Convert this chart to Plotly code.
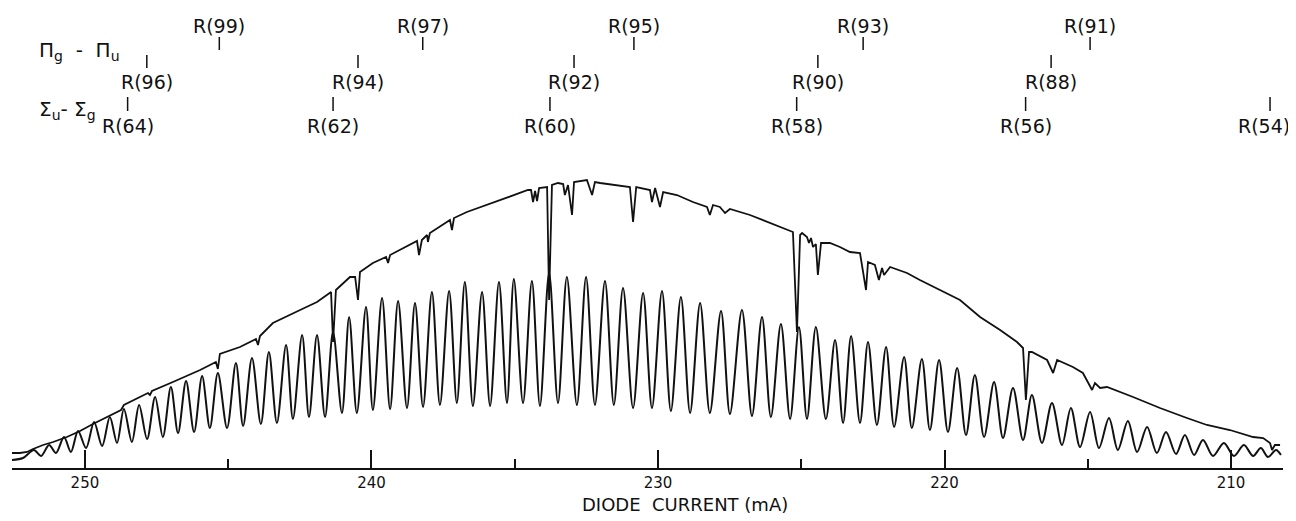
import plotly.graph_objects as go

# ---------------- data (diode current in mA, signal in arbitrary units) ----------------
# Upper trace: transmitted laser power through the absorption cell
abs_mA = [252.55, 252.27, 252.02, 251.81, 251.46, 251.11, 250.63, 250.17, 249.72, 249.12,
          248.74, 248.64, 247.80, 247.73, 247.66, 246.93, 245.98, 245.43, 245.36, 245.29,
          244.59, 244.03, 243.96, 243.89, 243.44, 242.49, 241.90, 241.41, 241.34, 241.24,
          240.75, 240.57, 240.47, 240.40, 239.95, 239.49, 239.42, 239.35, 239.00, 238.41,
          238.34, 238.24, 238.06, 238.03, 237.96, 237.26, 237.19, 237.12, 236.67, 235.51,
          234.54, 234.43, 234.36, 234.29, 234.22, 234.15, 233.87, 233.80, 233.70, 233.49,
          233.31, 233.25, 233.14, 233.00, 232.93, 232.48, 232.30, 232.20, 232.02, 230.98,
          230.87, 230.76, 230.28, 230.21, 230.10, 229.93, 229.82, 229.34, 228.78, 228.29,
          228.19, 228.08, 227.84, 227.66, 227.49, 226.79, 226.20, 225.63, 225.29, 225.15,
          225.04, 224.97, 224.80, 224.73, 224.66, 224.59, 224.49, 224.42, 224.31, 224.00,
          223.65, 223.30, 222.95, 222.74, 222.67, 222.43, 222.29, 222.18, 222.11, 221.90,
          221.31, 220.86, 220.16, 219.46, 218.76, 218.06, 217.47, 217.26, 217.16, 217.05,
          216.95, 216.42, 216.21, 216.07, 215.52, 215.17, 214.85, 214.75, 214.57, 214.33,
          213.42, 212.48, 211.54, 210.84, 210.04, 209.23, 208.88, 208.64, 208.57, 208.47,
          208.29]
abs_I = [0.15, 0.15, 0.16, 0.19, 0.23, 0.26, 0.31, 0.37, 0.44, 0.53,
         0.58, 0.63, 0.75, 0.73, 0.77, 0.86, 0.98, 1.06, 0.99, 1.14,
         1.21, 1.29, 1.23, 1.32, 1.45, 1.58, 1.66, 1.76, 1.26, 1.78,
         1.91, 1.91, 1.68, 1.96, 2.05, 2.11, 2.05, 2.13, 2.18, 2.27,
         2.13, 2.28, 2.33, 2.26, 2.35, 2.48, 2.38, 2.50, 2.56, 2.68,
         2.78, 2.78, 2.66, 2.77, 2.67, 2.80, 2.81, 1.68, 2.83, 2.85,
         2.84, 2.73, 2.83, 2.53, 2.86, 2.88, 2.73, 2.86, 2.85, 2.81,
         2.46, 2.81, 2.78, 2.66, 2.80, 2.61, 2.76, 2.73, 2.66, 2.61,
         2.53, 2.63, 2.61, 2.55, 2.59, 2.53, 2.46, 2.40, 2.36, 1.36,
         2.33, 2.35, 2.31, 2.25, 2.30, 2.21, 2.24, 1.93, 2.25, 2.25,
         2.21, 2.16, 2.15, 1.78, 2.06, 2.03, 1.88, 2.00, 1.93, 2.01,
         1.95, 1.88, 1.78, 1.68, 1.51, 1.38, 1.26, 1.20, 0.68, 1.16,
         1.16, 1.08, 0.95, 1.08, 1.01, 0.95, 0.78, 0.85, 0.80, 0.81,
         0.71, 0.60, 0.50, 0.43, 0.38, 0.31, 0.30, 0.25, 0.18, 0.23,
         0.23]

# Lower trace: etalon fringes (maxima, minima and the two ends)
fringe_peak_mA = [251.78, 251.25, 250.73, 250.24, 249.68, 249.13, 248.64, 248.11, 247.55, 247.00,
                  246.47, 245.91, 245.36, 244.73, 244.17, 243.58, 242.98, 242.42, 241.90, 241.34,
                  240.78, 240.19, 239.63, 239.07, 238.48, 237.89, 237.29, 236.74, 236.14, 235.55,
                  235.03, 234.40, 233.80, 233.18, 232.51, 231.85, 231.22, 230.52, 229.86, 229.20,
                  228.53, 227.80, 227.07, 226.37, 225.71, 225.08, 224.49, 223.82, 223.26, 222.67,
                  222.04, 221.41, 220.79, 220.19, 219.56, 218.94, 218.27, 217.61, 216.95, 216.25,
                  215.59, 214.92, 214.26, 213.60, 212.93, 212.27, 211.61, 210.98, 210.25, 209.55,
                  208.96, 208.43]
fringe_peak_I = [0.18, 0.23, 0.31, 0.37, 0.46, 0.51, 0.59, 0.63, 0.71, 0.81,
                 0.87, 0.92, 0.95, 1.05, 1.10, 1.16, 1.23, 1.33, 1.33, 1.36,
                 1.51, 1.61, 1.70, 1.67, 1.65, 1.76, 1.77, 1.86, 1.76, 1.86,
                 1.89, 1.87, 1.95, 1.91, 1.91, 1.87, 1.80, 1.75, 1.77, 1.71,
                 1.65, 1.57, 1.58, 1.51, 1.44, 1.41, 1.41, 1.28, 1.32, 1.26,
                 1.21, 1.11, 1.09, 1.08, 1.00, 0.93, 0.86, 0.80, 0.73, 0.65,
                 0.60, 0.56, 0.50, 0.47, 0.41, 0.36, 0.33, 0.28, 0.25, 0.23,
                 0.20, 0.18]
fringe_trough_mA = [251.53, 251.01, 250.49, 249.96, 249.40, 248.88, 248.36, 247.83, 247.28, 246.75,
                    246.19, 245.64, 245.04, 244.48, 243.86, 243.30, 242.74, 242.18, 241.62, 241.03,
                    240.51, 239.95, 239.35, 238.76, 238.20, 237.61, 237.02, 236.46, 235.86, 235.27,
                    234.71, 234.12, 233.49, 232.83, 232.20, 231.54, 230.87, 230.21, 229.55, 228.88,
                    228.19, 227.49, 226.72, 226.06, 225.39, 224.80, 224.14, 223.54, 222.95, 222.36,
                    221.76, 221.14, 220.51, 219.88, 219.25, 218.62, 217.96, 217.26, 216.60, 215.90,
                    215.27, 214.61, 213.95, 213.28, 212.59, 211.92, 211.29, 210.63, 209.90, 209.23,
                    208.71]
fringe_trough_I = [0.12, 0.15, 0.16, 0.20, 0.22, 0.25, 0.26, 0.29, 0.31, 0.35,
                   0.36, 0.40, 0.40, 0.42, 0.44, 0.45, 0.49, 0.51, 0.51, 0.55,
                   0.55, 0.58, 0.59, 0.60, 0.61, 0.63, 0.65, 0.62, 0.62, 0.65,
                   0.65, 0.62, 0.65, 0.63, 0.63, 0.63, 0.60, 0.60, 0.57, 0.55,
                   0.55, 0.54, 0.52, 0.51, 0.49, 0.49, 0.49, 0.45, 0.45, 0.43,
                   0.41, 0.40, 0.38, 0.36, 0.33, 0.31, 0.30, 0.28, 0.25, 0.23,
                   0.21, 0.20, 0.18, 0.16, 0.15, 0.14, 0.13, 0.12, 0.12, 0.12,
                   0.11]
fringe_end_mA = [252.55, 252.16, 208.26]
fringe_end_I = [0.08, 0.10, 0.13]

# Line assignments (diode current of each marked absorption line)
pi_odd_labels = ["R(99)", "R(97)", "R(95)", "R(93)", "R(91)"]
pi_odd_mA = [245.31, 238.21, 230.84, 222.84, 214.92]
pi_even_labels = ["R(96)", "R(94)", "R(92)", "R(90)", "R(88)"]
pi_even_mA = [247.84, 240.47, 232.93, 224.42, 216.28]
sigma_labels = ["R(64)", "R(62)", "R(60)", "R(58)", "R(56)", "R(54)"]
sigma_mA = [248.51, 241.34, 233.77, 225.16, 217.17, 208.64]

major_ticks = [250, 240, 230, 220, 210]
minor_ticks = [245, 235, 225, 215]

# ---------------- figure ----------------
INK = "#111111"
FONT = "DejaVu Sans"
X_MIN_SHOWN = 208.187

fringe = sorted(zip(fringe_peak_mA + fringe_trough_mA + fringe_end_mA,
                    fringe_peak_I + fringe_trough_I + fringe_end_I), reverse=True)

fig = go.Figure()
fig.add_trace(go.Scatter(x=abs_mA, y=abs_I, mode="lines",
                         line=dict(color=INK, width=1.8), hoverinfo="skip"))
fig.add_trace(go.Scatter(x=[p[0] for p in fringe], y=[p[1] for p in fringe], mode="lines",
                         line=dict(color=INK, width=2.0, shape="spline", smoothing=0.9),
                         hoverinfo="skip"))

rows = [
    (pi_odd_labels, pi_odd_mA, (4.18, 4.31), 4.425),
    (pi_even_labels, pi_even_mA, (4.00, 4.13), 3.86),
    (sigma_labels, sigma_mA, (3.57, 3.71), 3.42),
]
for labels, xs, (y0, y1), ylab in rows:
    for lab, xv in zip(labels, xs):
        fig.add_shape(type="line", xref="x", yref="y", x0=xv, x1=xv, y0=y0, y1=y1,
                      line=dict(color=INK, width=1.5))
        # labels close to the right edge are nudged inwards so they stay on the page
        shift = -6 if xv - X_MIN_SHOWN < 1.0 else 0
        fig.add_annotation(x=xv, y=ylab, xref="x", yref="y", text=lab, showarrow=False,
                           xanchor="center", yanchor="middle", xshift=shift,
                           font=dict(family=FONT, size=19, color=INK))

fig.add_annotation(x=0.0535, y=4.17, xref="paper", yref="y",
                   text="Π<sub>g</sub>  -  Π<sub>u</sub>", showarrow=False,
                   xanchor="center", yanchor="middle",
                   font=dict(family=FONT, size=20, color=INK))
fig.add_annotation(x=0.0435, y=3.58, xref="paper", yref="y",
                   text="Σ<sub>u</sub>- Σ<sub>g</sub>", showarrow=False,
                   xanchor="center", yanchor="middle",
                   font=dict(family=FONT, size=20, color=INK))
fig.add_annotation(x=0.5295, y=-0.080, xref="paper", yref="paper",
                   text="DIODE  CURRENT (mA)", showarrow=False,
                   xanchor="center", yanchor="middle",
                   font=dict(family=FONT, size=18, color=INK))

fig.update_xaxes(range=[252.545, X_MIN_SHOWN], showline=True, linecolor=INK, linewidth=2,
                 ticks="inside", ticklen=18, tickwidth=1.5, tickcolor=INK,
                 tickvals=major_ticks, ticktext=[str(t) for t in major_ticks],
                 tickfont=dict(family=FONT, size=15, color=INK),
                 minor=dict(tickvals=minor_ticks, ticks="inside", ticklen=9,
                            tickwidth=1.5, tickcolor=INK),
                 showgrid=False, zeroline=False)
fig.update_yaxes(visible=False, range=[0, 4.60], showgrid=False, zeroline=False)

# the page body adds an 8 px margin, so the figure is 8 px smaller each way
fig.update_layout(width=1288, height=513, margin=dict(l=4, r=13, t=0, b=53),
                  paper_bgcolor="white", plot_bgcolor="white", showlegend=False)

fig.write_html("out.html")
